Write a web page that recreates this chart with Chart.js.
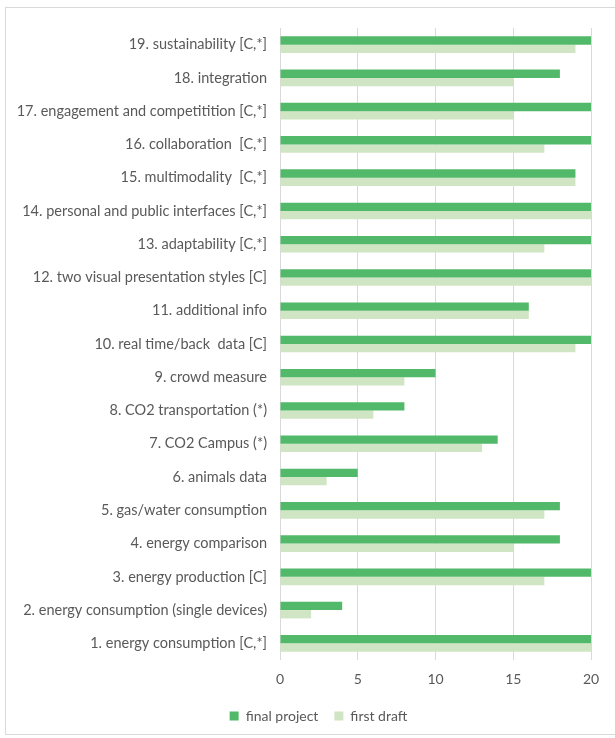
<!DOCTYPE html>
<html>
<head>
<meta charset="utf-8">
<script src="https://cdn.jsdelivr.net/npm/chart.js@4/dist/chart.umd.min.js"></script>
<style>
  html, body { margin: 0; padding: 0; background: #fff; }
  #wrap { position: relative; width: 615px; height: 738px; overflow: hidden; }
  #frame { position: absolute; left: 5px; top: 7px; width: 640px; height: 728px; border: 1px solid #d9d9d9; box-sizing: border-box; }
  #chart { position: absolute; left: 0; top: 0; }
</style>
</head>
<body>
<div id="wrap">
  <div id="frame"></div>
  <canvas id="chart" width="615" height="738"></canvas>
</div>
<script>
// Categories, top to bottom as shown
const categories = [
    '19. sustainability [C,*]',
    '18. integration',
    '17. engagement and competitition [C,*]',
    '16. collaboration  [C,*]',
    '15. multimodality  [C,*]',
    '14. personal and public interfaces [C,*]',
    '13. adaptability [C,*]',
    '12. two visual presentation styles [C]',
    '11. additional info',
    '10. real time/back  data [C]',
    '9. crowd measure',
    '8. CO2 transportation (*)',
    '7. CO2 Campus (*)',
    '6. animals data',
    '5. gas/water consumption',
    '4. energy comparison',
    '3. energy production [C]',
    '2. energy consumption (single devices)',
    '1. energy consumption [C,*]'
];

const finalProject = [20, 18, 20, 20, 19, 20, 20, 20, 16, 20, 10, 8, 14, 5, 18, 18, 20, 4, 20];
const firstDraft   = [19, 15, 15, 17, 19, 20, 17, 20, 16, 19, 8, 6, 13, 3, 17, 15, 17, 2, 20];

const xTicks = [0, 5, 10, 15, 20];

const textColor = '#595959';
const fontFamily = "Lato, 'Open Sans', sans-serif";

Chart.defaults.color = textColor;
Chart.defaults.font.family = fontFamily;
Chart.defaults.font.size = 14;

// nudge the legend so it sits centred under the whole frame
const legendShift = {
    id: 'legendShift',
    afterLayout(chart) {
        if (chart.legend) {
            chart.legend.left += 23;
            chart.legend.right += 23;
        }
    }
};

const ctx = document.getElementById('chart');
new Chart(ctx, {
    type: 'bar',
    data: {
        labels: categories,
        datasets: [
            {
                label: 'final project',
                data: finalProject,
                backgroundColor: '#53b96a',
                borderWidth: 0
            },
            {
                label: 'first draft',
                data: firstDraft,
                backgroundColor: '#d0e5c3',
                borderWidth: 0
            }
        ]
    },
    options: {
        indexAxis: 'y',
        responsive: false,
        animation: false,
        categoryPercentage: 0.5,
        barPercentage: 1.0,
        layout: {
            padding: { left: 0, right: 24, top: 28, bottom: 5 }
        },
        plugins: {
            tooltip: { enabled: false },
            legend: {
                position: 'bottom',
                labels: {
                    boxWidth: 9,
                    boxHeight: 9,
                    padding: 16,
                    color: textColor,
                    font: { size: 14 }
                }
            }
        },
        scales: {
            x: {
                min: 0,
                max: 20,
                afterBuildTicks: (scale) => {
                    scale.ticks = xTicks.map(v => ({ value: v }));
                },
                grid: {
                    color: '#d9d9d9',
                    lineWidth: 1,
                    drawTicks: false
                },
                border: { display: false },
                ticks: {
                    padding: 11,
                    color: textColor,
                    font: { size: 14 }
                },
                afterFit: (scale) => { scale.height = 33; }
            },
            y: {
                grid: { display: false, drawTicks: false },
                border: { display: false },
                ticks: {
                    padding: 13,
                    color: textColor,
                    font: { size: 14.5 }
                },
                afterFit: (scale) => { scale.width = 280; }
            }
        }
    },
    plugins: [legendShift]
});
</script>
</body>
</html>
